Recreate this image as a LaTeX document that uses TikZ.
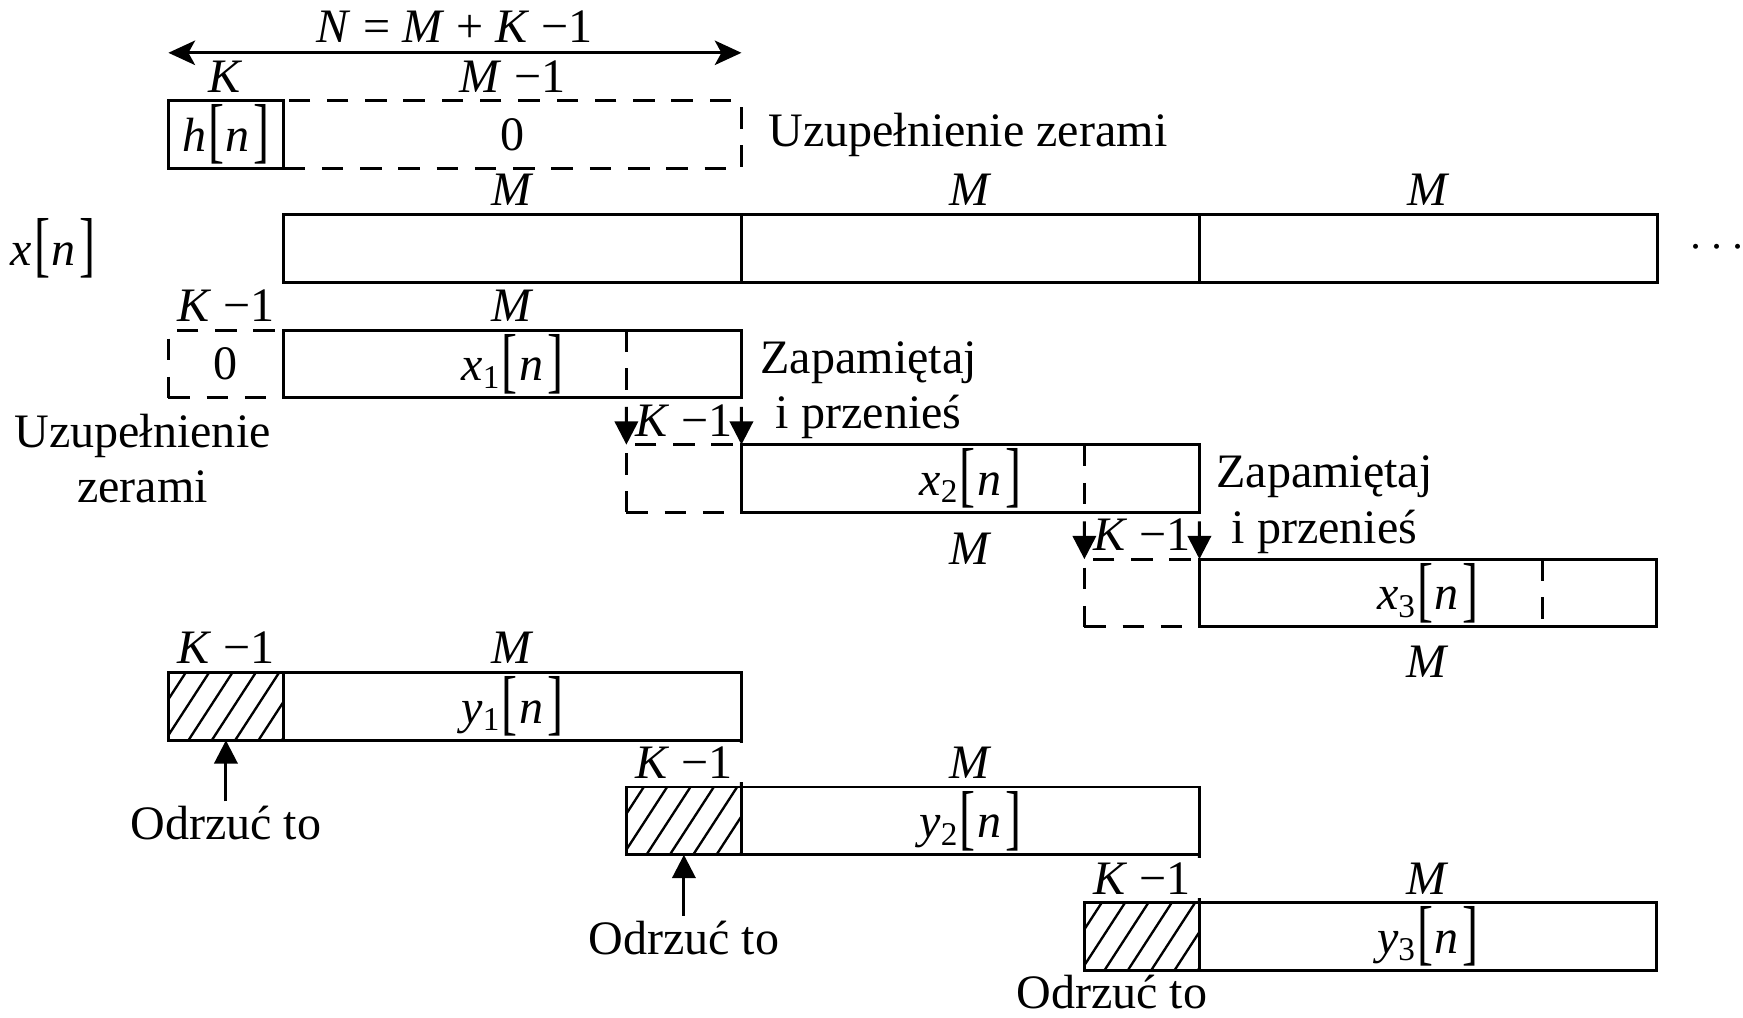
\documentclass[tikz,border=0pt]{standalone}
\usepackage{fontspec}
\setmainfont{Liberation Serif}
\usepackage{graphicx}
\usetikzlibrary{arrows.meta, positioning}
\newcommand{\br}[1]{\raisebox{-0.9pt}{\scalebox{1}[1.5]{#1}}}
\newcommand{\sig}[3][]{\textit{#2}\raisebox{-0.35ex}{\fontsize{8.5}{9}\selectfont#1}\kern.05em\br{[}\kern.03em\textit{#3}\kern.08em\br{]}}
\newcommand{\kmo}{\textit{K} −1}
\tikzset{
  seg/.style={rectangle, draw, line width=0.75pt, minimum height=6.1mm, inner sep=0pt, outer sep=0pt, anchor=north west},
  pad/.style={seg, dash pattern=on 5.5pt off 4.3pt},
  cut/.style={seg, path picture={
      \foreach \s in {0,...,6}
        \draw[line width=0.6pt] ([xshift=\s*2.1mm-2.4mm]path picture bounding box.south west) -- ++(57:9mm);}},
  split/.style={line width=0.75pt, dash pattern=on 5.5pt off 4.3pt},
  lbl/.style={inner sep=1pt},
  note/.style={inner sep=1pt, align=center},
  arr/.style={-{Triangle[length=2.1mm, width=2.1mm]}, line width=0.75pt},
  dbl/.style={{Stealth[length=2.4mm, width=2.2mm, inset=0.6mm]}-{Stealth[length=2.4mm, width=2.2mm, inset=0.6mm]}, line width=0.75pt},
}

\begin{document}
\begin{tikzpicture}[font=\fontsize{12.3}{14.2}\selectfont]
\useasboundingbox (0,0) rectangle (15.68,-9.15);

% filter h[n] padded to N
\node[seg, minimum width=10.35mm] (h) at (1.515,-0.905) {\sig{h}{n}};
\node[pad, minimum width=41.2mm] (hz) at (h.north east) {0};
\node[lbl, above=1pt of h] {\textit{K}};
\node[lbl, above=1pt of hz] {\textit{M} −1};
\coordinate (nl) at ([yshift=4.3mm]h.north west);
\coordinate (nr) at ([yshift=4.3mm]hz.north east);
\draw[dbl] (nl) -- node[lbl, above=1.3pt] {\textit{N} = \textit{M} + \kmo} (nr);
\node[note, right=2mm of hz] (pad0) {Uzupełnienie zerami};

% input x[n]
\node[seg, minimum width=41.2mm] (xa) at (2.55,-1.93) {};
\node[seg, minimum width=41.2mm] (xb) at (xa.north east) {};
\node[seg, minimum width=41.2mm] (xc) at (xb.north east) {};
\node[lbl, above=1pt of xa] {\textit{M}};
\node[lbl, above=1pt of xb] {\textit{M}};
\node[lbl, above=1pt of xc] {\textit{M}};
\node[lbl, left=16.5mm of xa] (xin) {\sig{x}{n}};
\node[lbl, right=2.5mm of xc] (more) {$\cdots$};

% blocks x_1, x_2, x_3
\node[pad, minimum width=10.35mm] (z1) at (1.515,-2.97) {0};
\node[seg, minimum width=41.2mm] (x1) at (z1.north east) {\sig[1]{x}{n}};
\coordinate (d1t) at ([xshift=-10.35mm]x1.north east);
\coordinate (d1b) at ([xshift=-10.35mm]x1.south east);
\draw[split] (d1t) -- (d1b);
\node[lbl, above=1pt of z1] {\kmo};
\node[lbl, above=1pt of x1] {\textit{M}};
\node[note, below=1mm of z1, xshift=-7.5mm] (pad1) {Uzupełnienie\\zerami};

\node[pad, minimum width=10.35mm] (z2) at (5.635,-4.00) {};
\node[seg, minimum width=41.2mm] (x2) at (z2.north east) {\sig[2]{x}{n}};
\coordinate (d2t) at ([xshift=-10.35mm]x2.north east);
\coordinate (d2b) at ([xshift=-10.35mm]x2.south east);
\draw[split] (d2t) -- (d2b);
\node[lbl, above=1pt of z2] {\kmo};
\node[lbl, below=1.4mm of x2] {\textit{M}};
\draw[arr, shorten <=0.8mm] (d1b) -- (z2.north west);
\draw[arr, shorten <=0.8mm] (x1.south east) -- (x2.north west);
\node[note, anchor=north west] (keep1) at ([xshift=1.3mm,yshift=-0.6mm]x1.north east) {Zapamiętaj\\i przenieś};

\node[pad, minimum width=10.35mm] (z3) at (9.755,-5.03) {};
\node[seg, minimum width=41.1mm] (x3) at (z3.north east) {\sig[3]{x}{n}};
\coordinate (d3t) at ([xshift=-10.2mm]x3.north east);
\coordinate (d3b) at ([xshift=-10.2mm]x3.south east);
\draw[split] (d3t) -- (d3b);
\node[lbl, above=1pt of z3] {\kmo};
\node[lbl, below=1.3mm of x3] {\textit{M}};
\draw[arr, shorten <=0.8mm] (d2b) -- (z3.north west);
\draw[arr, shorten <=0.8mm] (x2.south east) -- (x3.north west);
\node[note, anchor=north west] (keep2) at ([xshift=1.1mm,yshift=-0.6mm]x2.north east) {Zapamiętaj\\i przenieś};

% output blocks y_1, y_2, y_3
\node[cut, minimum width=10.35mm] (k1) at (1.515,-6.05) {};
\node[seg, minimum width=41.2mm] (y1) at (k1.north east) {\sig[1]{y}{n}};
\node[lbl, above=1pt of k1] {\kmo};
\node[lbl, above=1pt of y1] {\textit{M}};
\node[note, below=5.5mm of k1] (drop1) {Odrzuć to};
\draw[arr] (drop1) -- (k1);

\node[cut, minimum width=10.35mm] (k2) at (5.635,-7.08) {};
\node[seg, minimum width=41.2mm] (y2) at (k2.north east) {\sig[2]{y}{n}};
\draw[line width=0.75pt] (y1.south east) -- (k2.north east);
\node[lbl, fill=white, inner xsep=3.5pt, above=1pt of k2] {\kmo};
\node[lbl, above=1pt of y2] {\textit{M}};
\node[note, below=5.5mm of k2] (drop2) {Odrzuć to};
\draw[arr] (drop2) -- (k2);

\node[cut, minimum width=10.35mm] (k3) at (9.755,-8.12) {};
\node[seg, minimum width=41.1mm] (y3) at (k3.north east) {\sig[3]{y}{n}};
\draw[line width=0.75pt] (y2.south east) -- (k3.north east);
\node[lbl, fill=white, inner xsep=3.5pt, above=1pt of k3] {\kmo};
\node[lbl, above=1pt of y3] {\textit{M}};
\node[note, below=0pt of k3, xshift=-2.7mm] (drop3) {Odrzuć to};
\end{tikzpicture}
\end{document}
